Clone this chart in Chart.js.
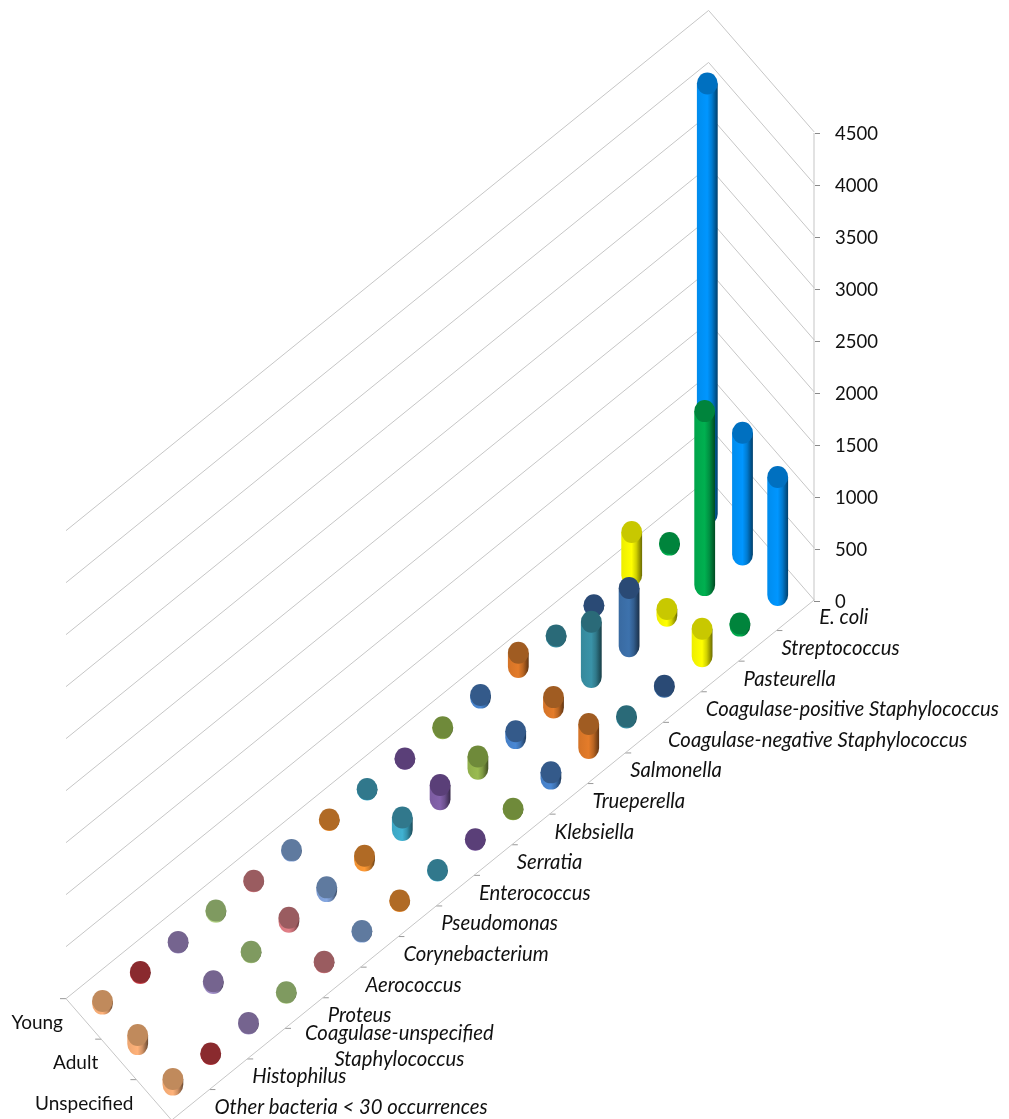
<!DOCTYPE html>
<html>
<head>
<meta charset="utf-8">
<style>body{margin:0;background:#fff}canvas{display:block}</style>
<script src="https://cdn.jsdelivr.net/npm/chart.js@4"></script>
</head>
<body>
<canvas id="chart3d" width="1009" height="1119"></canvas>
<script>
const categories = ['E. coli','Streptococcus','Pasteurella','Coagulase-positive Staphylococcus','Coagulase-negative Staphylococcus','Salmonella','Trueperella','Klebsiella','Serratia','Enterococcus','Pseudomonas','Corynebacterium','Aerococcus','Proteus',['Coagulase-unspecified','Staphylococcus'],'Histophilus','Other bacteria < 30 occurrences'];
const seriesNames = ['Young','Adult','Unspecified'];
const young = [4140,15,415,5,8,137,25,8,3,3,5,5,5,12,5,10,25];
const adult = [1170,1673,65,560,530,100,65,118,137,120,45,36,38,5,15,0,87];
const unspecified = [1135,20,264,10,10,230,60,5,5,3,5,5,5,5,5,5,55];
const valueTicks = [0,500,1000,1500,2000,2500,3000,3500,4000,4500];

const sideColors = ['#0096ff','#00b050','#ffff00','#3d72ad','#3a93a8','#e47c2a','#4a88d4','#9abb50','#8462ac','#40b2d2','#ff9a35','#86a8e2','#e48088','#b8d888','#a290ca','#d24048','#ffb27a'];
const topColors = ['#0070c0','#00843c','#c8c800','#2a4a75','#2a6a78','#a05c22','#345a8a','#6f8a3a','#5a3f78','#31788c','#b06a25','#5f7a9f','#9a5c60','#7f9a60','#75648f','#8a2a2e','#c08a5c'];

// fake 3d: px per step on the floor, and px per value unit
const pxPerUnit = 0.104;
const zeroPx = 601;
function project(cat, ser, v) {
  const px = 707.3 - 37.8 * cat + 35.2 * ser;
  const py = 514 + 30.6 * cat + 40.5 * ser;
  return { x: px, y: v - (py - zeroPx) / pxPerUnit };
}

const datasets = [];
function addLine(points, color, width) {
  datasets.push({ data: points, showLine: true, borderColor: color, borderWidth: width, pointRadius: 0, clip: false, kind: 'line' });
}

// walls and floor
const gridColor = '#c6c6c6';
valueTicks.forEach(v => {
  addLine([project(-0.5, 2.5, v), project(-0.5, -0.5, v), project(16.5, -0.5, v)], gridColor, 1);
});
addLine([project(16.5, -0.5, 0), project(16.5, 2.5, 0), project(-0.5, 2.5, 0)], gridColor, 1);
addLine([{ x: 814, y: 0 }, { x: 814, y: 4500 }], '#e2e2e2', 2);

// little dashes along the floor edges
categories.forEach((c, i) => {
  if (i === categories.length - 1) return;
  const p = project(i + 0.5, 2.5, 0);
  addLine([p, { x: p.x + 6, y: p.y }], '#999999', 1);
});
seriesNames.forEach((s, j) => {
  const p = project(16.5, j - 0.5, 0);
  addLine([{ x: p.x - 6, y: p.y }, p], '#999999', 1);
});

// one dataset per cylinder, back row first
[young, adult, unspecified].forEach((values, j) => {
  values.forEach((v, i) => {
    if (!v) return;
    datasets.push({ data: [project(i, j, 0), project(i, j, v)], pointRadius: 0, kind: 'cylinder', cat: i });
  });
});

function shade(hex, f) {
  const n = parseInt(hex.slice(1), 16);
  return 'rgb(' + Math.round((n >> 16) * f) + ',' + Math.round(((n >> 8) & 255) * f) + ',' + Math.round((n & 255) * f) + ')';
}

const cylinders = {
  id: 'cylinders',
  afterDatasetsDraw(chart) {
    const ctx = chart.ctx;
    const rx = 10.4, ry = 11;
    ctx.save();
    chart.data.datasets.forEach((ds, k) => {
      if (ds.kind !== 'cylinder') return;
      const pts = chart.getDatasetMeta(k).data;
      const x = pts[0].x, yb = pts[0].y, yt = pts[1].y;
      const g = ctx.createLinearGradient(x - rx, 0, x + rx, 0);
      const c = sideColors[ds.cat];
      g.addColorStop(0, shade(c, 0.93));
      g.addColorStop(0.5, c);
      g.addColorStop(0.72, shade(c, 0.82));
      g.addColorStop(1, shade(c, 0.42));
      ctx.fillStyle = g;
      ctx.beginPath();
      ctx.moveTo(x - rx, yt);
      ctx.lineTo(x - rx, yb);
      ctx.ellipse(x, yb, rx, ry, 0, Math.PI, 0, true);
      ctx.lineTo(x + rx, yt);
      ctx.closePath();
      ctx.fill();
      ctx.fillStyle = topColors[ds.cat];
      ctx.beginPath();
      ctx.ellipse(x, yt, rx, ry, 0, 0, Math.PI * 2);
      ctx.fill();
    });

    // floor labels
    const sx = chart.scales.x, sy = chart.scales.y;
    ctx.fillStyle = '#111';
    ctx.textBaseline = 'middle';
    ctx.textAlign = 'left';
    ctx.font = 'italic 20.3px Lato';
    categories.forEach((c, i) => {
      const p = project(i - 0.5, 2.5, 0);
      const x = sx.getPixelForValue(p.x) + 5;
      const y = sy.getPixelForValue(p.y) + 18;
      if (Array.isArray(c)) {
        const w = Math.max(...c.map(t => ctx.measureText(t).width));
        ctx.textAlign = 'center';
        c.forEach((t, n) => ctx.fillText(t, x + 15 + w / 2, y + (n - 0.5) * 26));
        ctx.textAlign = 'left';
      } else {
        ctx.fillText(c, x, y);
      }
    });
    ctx.font = '19px Lato';
    ctx.textAlign = 'right';
    seriesNames.forEach((s, j) => {
      const p = project(16.5, j - 0.5, 0);
      ctx.fillText(s, sx.getPixelForValue(p.x) - 3, sy.getPixelForValue(p.y) + 24);
    });
    ctx.restore();
  }
};

new Chart(document.getElementById('chart3d'), {
  type: 'scatter',
  data: { datasets: datasets },
  plugins: [cylinders],
  options: {
    responsive: false,
    animation: false,
    events: [],
    plugins: { legend: { display: false }, tooltip: { enabled: false } },
    scales: {
      x: { type: 'linear', min: 0, max: 814, display: false },
      y: {
        type: 'linear',
        position: 'right',
        min: -518 / pxPerUnit,
        max: zeroPx / pxPerUnit,
        afterBuildTicks(scale) { scale.ticks = valueTicks.map(v => ({ value: v })); },
        afterFit(scale) { scale.width = 195; scale.paddingTop = 0; scale.paddingBottom = 0; },
        border: { display: false },
        grid: { drawOnChartArea: false, tickLength: 6, tickColor: '#8a8a8a' },
        ticks: { autoSkip: false, padding: 15, labelOffset: 1, color: '#111', font: { family: 'Lato', size: 18.5 }, callback: v => String(v) }
      }
    }
  }
});
</script>
</body>
</html>
